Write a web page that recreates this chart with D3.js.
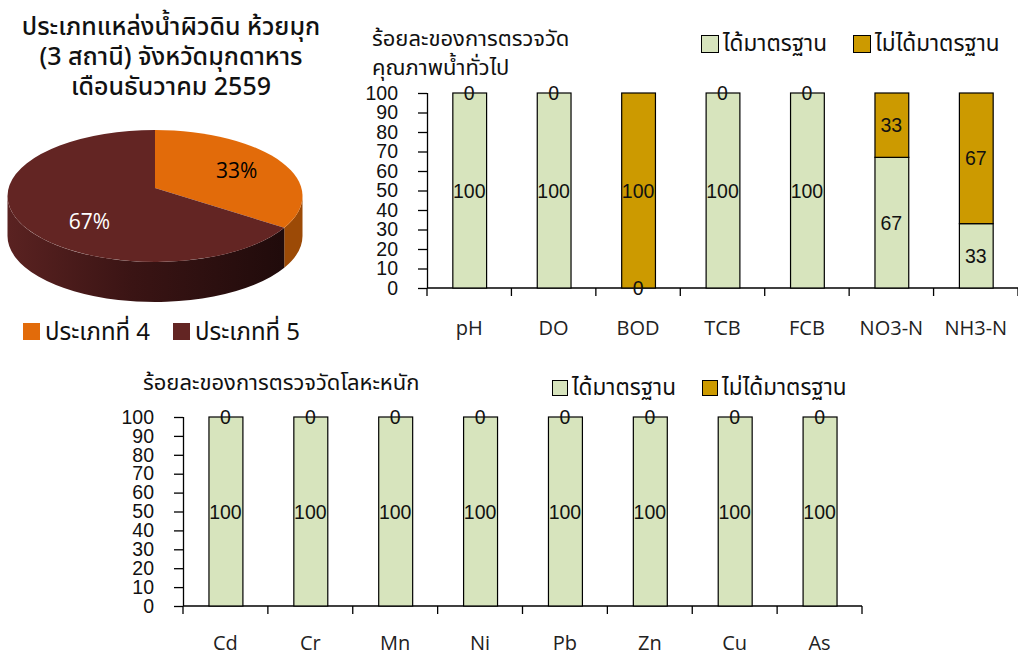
<!DOCTYPE html>
<html>
<head>
<meta charset="utf-8">
<script src="https://cdn.jsdelivr.net/npm/d3@7"></script>
<style>
  html, body { margin: 0; padding: 0; background: #fff; }
  svg { display: block; }
  .thai { font-family: "Noto Sans Thai", "Noto Sans", "DejaVu Sans", sans-serif; }
  .num { font-family: "Liberation Sans", Arial, sans-serif; }
  .lat { font-family: "Open Sans", "Noto Sans", sans-serif; }
</style>
</head>
<body>
<svg id="chart" width="1018" height="657"></svg>
<script>
// ---- data ----
const pieTitle = ["ประเภทแหล่งน้ำผิวดิน ห้วยมุก", "(3 สถานี) จังหวัดมุกดาหาร", "เดือนธันวาคม 2559"];
const pieLabels = ["ประเภทที่ 4", "ประเภทที่ 5"];
const pieValues = [33, 67];

const seriesNames = ["ได้มาตรฐาน", "ไม่ได้มาตรฐาน"];
const yTicks = [0, 10, 20, 30, 40, 50, 60, 70, 80, 90, 100];

const generalTitle = ["ร้อยละของการตรวจวัด", "คุณภาพน้ำทั่วไป"];
const generalParams = ["pH", "DO", "BOD", "TCB", "FCB", "NO3-N", "NH3-N"];
const generalPass = [100, 100, 0, 100, 100, 67, 33];
const generalFail = [0, 0, 100, 0, 0, 33, 67];

const metalTitle = ["ร้อยละของการตรวจวัดโลหะหนัก"];
const metalParams = ["Cd", "Cr", "Mn", "Ni", "Pb", "Zn", "Cu", "As"];
const metalPass = [100, 100, 100, 100, 100, 100, 100, 100];
const metalFail = [0, 0, 0, 0, 0, 0, 0, 0];

// ---- styles ----
const passColor = "#D7E4BD";
const failColor = "#CC9A00";
const pieColors = ["#E26B0A", "#632523"];
const pieSide = ["#9C4A06", null];

const svg = d3.select("#chart");

// ================= 3D pie =================
(function drawPie() {
  const g = svg.append("g");
  g.selectAll("text.ptitle").data(pieTitle).join("text")
    .attr("class", "thai")
    .attr("x", 171).attr("y", (d, i) => 35 + i * 30)
    .attr("text-anchor", "middle")
    .attr("font-size", 25).attr("font-weight", 500).attr("fill", "#111")
    .text(d => d);

  const cx = 155, cy = 196, rx = 147.5, ry = 66, depth = 40;
  const ax = 155, ay = 188; // apex of the slices (perspective)
  const pt = (a, dy = 0) => [cx + rx * Math.sin(a), cy - ry * Math.cos(a) + dy];

  const arcs = d3.pie().sort(null)(pieValues);

  // side-wall gradient for the dark slice
  const defs = svg.append("defs");
  const grad = defs.append("linearGradient").attr("id", "sideGrad")
    .attr("x1", "0").attr("x2", "1").attr("y1", "0").attr("y2", "0");
  grad.append("stop").attr("offset", "0%").attr("stop-color", "#5a2221");
  grad.append("stop").attr("offset", "45%").attr("stop-color", "#3a1414");
  grad.append("stop").attr("offset", "100%").attr("stop-color", "#200b0b");

  // front side walls (visible between PI/2 and 3PI/2)
  arcs.forEach((a, i) => {
    const s = Math.max(a.startAngle, Math.PI / 2);
    const e = Math.min(a.endAngle, 3 * Math.PI / 2);
    if (e <= s) return;
    const p0 = pt(s), p1 = pt(e), q1 = pt(e, depth), q0 = pt(s, depth);
    const large = (e - s) > Math.PI ? 1 : 0;
    const d = `M${p0}A${rx},${ry} 0 ${large} 1 ${p1}L${q1}A${rx},${ry} 0 ${large} 0 ${q0}Z`;
    g.append("path").attr("d", d)
      .attr("fill", pieSide[i] || "url(#sideGrad)");
  });

  // top faces
  arcs.forEach((a, i) => {
    const p0 = pt(a.startAngle), p1 = pt(a.endAngle);
    const large = (a.endAngle - a.startAngle) > Math.PI ? 1 : 0;
    const d = `M${ax},${ay}L${p0}A${rx},${ry} 0 ${large} 1 ${p1}Z`;
    g.append("path").attr("d", d).attr("fill", pieColors[i]);
  });

  // percentage labels
  const total = d3.sum(pieValues);
  arcs.forEach((a, i) => {
    const m = (a.startAngle + a.endAngle) / 2;
    const x = cx + 8 + rx * 0.58 * Math.sin(m);
    const y = cy - ry * 0.75 * Math.cos(m);
    g.append("text").attr("class", "lat")
      .attr("x", x).attr("y", y).attr("dy", "0.36em")
      .attr("text-anchor", "middle").attr("font-size", 21)
      .attr("fill", i === 0 ? "#000" : "#fff")
      .text(Math.round(a.value / total * 100) + "%");
  });

  // legend
  const lg = g.selectAll("g.pleg").data(pieLabels).join("g")
    .attr("transform", (d, i) => `translate(${23 + i * 150},323)`);
  lg.append("rect").attr("width", 17).attr("height", 17)
    .attr("fill", (d, i) => pieColors[i]);
  lg.append("text").attr("class", "thai")
    .attr("x", 22).attr("y", 9).attr("dy", "0.35em")
    .attr("font-size", 24).attr("fill", "#111")
    .text(d => d);
})();

// ================= stacked percentage bars =================
function drawBars(opts) {
  const { cats, pass, fail, x0, x1, yTop, yBot, title, titleX, titleY, titleGap,
          legX, legY, legBox, legGap, labelY } = opts;
  const g = svg.append("g");

  const rows = cats.map((c, i) => ({ cat: c, pass: pass[i], fail: fail[i] }));
  const stack = d3.stack().keys(["pass", "fail"])(rows);

  const x = d3.scaleBand().domain(cats).range([x0, x1])
    .paddingInner(0.6).paddingOuter(0.3);
  const y = d3.scaleLinear().domain([0, 100]).range([yBot, yTop]);

  // title
  g.selectAll("text.btitle").data(title).join("text")
    .attr("class", "thai")
    .attr("x", titleX).attr("y", (d, i) => titleY + i * titleGap)
    .attr("font-size", 22).attr("fill", "#111")
    .text(d => d);

  // legend
  const lg = g.selectAll("g.leg").data(seriesNames).join("g")
    .attr("transform", (d, i) => `translate(${legX + i * legGap},${legY})`);
  lg.append("rect").attr("x", 0.5).attr("y", 0.5)
    .attr("width", legBox).attr("height", legBox)
    .attr("fill", (d, i) => i ? failColor : passColor)
    .attr("stroke", "#000").attr("stroke-width", 1);
  lg.append("text").attr("class", "thai")
    .attr("x", legBox + 5).attr("y", legBox / 2).attr("dy", "0.35em")
    .attr("font-size", 22.5).attr("fill", "#111")
    .text(d => d);

  // y axis
  const yAxis = d3.axisLeft(y).tickValues(yTicks).tickSize(9).tickPadding(20);
  const ya = g.append("g").attr("transform", `translate(${x0},0)`).call(yAxis);
  ya.select(".domain").attr("stroke", "#000").attr("stroke-width", 1.3)
    .attr("d", `M0.5,${yTop}V${yBot}`);
  ya.selectAll(".tick line").attr("stroke", "#000").attr("stroke-width", 1.3);
  ya.selectAll(".tick text").attr("class", "num")
    .attr("font-size", 19.5).attr("fill", "#111");

  // x axis line + category boundary ticks
  const step = x.step();
  const bounds = cats.map(c => x(c) - step * x.paddingInner() / 2).concat([x1]);
  g.append("line").attr("x1", x0).attr("x2", x1).attr("y1", yBot).attr("y2", yBot)
    .attr("stroke", "#000").attr("stroke-width", 1.5);
  g.selectAll("line.xt").data(bounds).join("line")
    .attr("x1", d => d).attr("x2", d => d)
    .attr("y1", yBot).attr("y2", yBot + 8)
    .attr("stroke", "#000").attr("stroke-width", 1.3);

  // bars
  stack.forEach((s, k) => {
    g.selectAll(`rect.s${k}`).data(s).join("rect")
      .attr("x", d => x(d.data.cat) + 0.5)
      .attr("y", d => y(d[1]))
      .attr("width", x.bandwidth())
      .attr("height", d => y(d[0]) - y(d[1]))
      .attr("fill", k ? failColor : passColor)
      .attr("stroke", "#000").attr("stroke-width", 1.2);
  });

  // value labels
  stack.forEach((s, k) => {
    g.selectAll(`text.v${k}`).data(s).join("text")
      .attr("class", "num")
      .attr("x", d => x(d.data.cat) + x.bandwidth() / 2)
      .attr("y", d => y((d[0] + d[1]) / 2)).attr("dy", "0.36em")
      .attr("text-anchor", "middle").attr("font-size", 19.5).attr("fill", "#111")
      .text(d => d[1] - d[0]);
  });

  // category labels
  g.selectAll("text.cat").data(cats).join("text")
    .attr("class", "lat")
    .attr("x", d => x(d) + x.bandwidth() / 2)
    .attr("y", labelY)
    .attr("text-anchor", "middle").attr("font-size", 20).attr("fill", "#222")
    .text(d => d);
}

drawBars({
  cats: generalParams, pass: generalPass, fail: generalFail,
  x0: 427, x1: 1018, yTop: 93, yBot: 288,
  title: generalTitle, titleX: 372, titleY: 46, titleGap: 29,
  legX: 701, legY: 35, legBox: 17, legGap: 152, labelY: 335
});

drawBars({
  cats: metalParams, pass: metalPass, fail: metalFail,
  x0: 183, x1: 862, yTop: 417, yBot: 606,
  title: metalTitle, titleX: 143, titleY: 390, titleGap: 29,
  legX: 552, legY: 380, legBox: 15, legGap: 150, labelY: 650
});
</script>
</body>
</html>
